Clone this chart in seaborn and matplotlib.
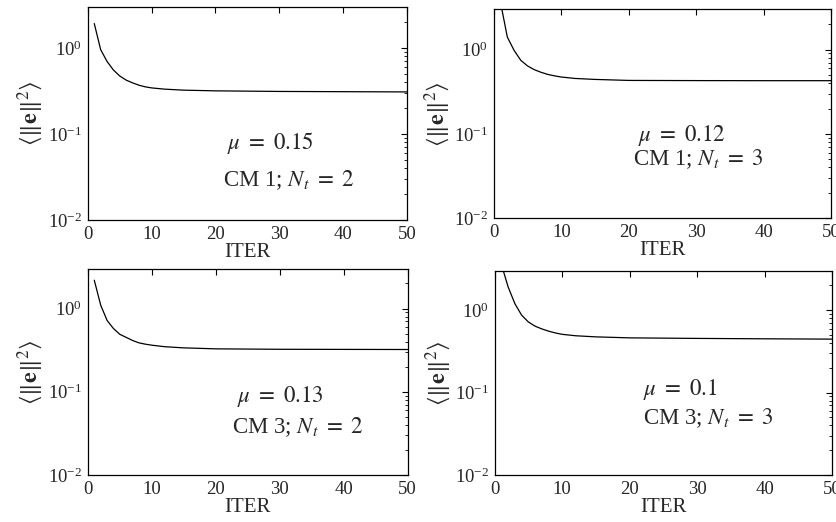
import numpy as np
import pandas as pd
import seaborn as sns
import matplotlib.pyplot as plt

sns.set_style("white")
plt.rcParams['font.family'] = ['Liberation Serif', 'DejaVu Serif']
plt.rcParams['mathtext.fontset'] = 'stix'

# iterations
iters = [1, 2, 3, 4, 5, 6, 7, 8, 9, 10, 12, 15, 20, 30, 40, 50]

# mean squared error for each panel
mse_cm1_nt2 = [1.93, 0.96, 0.70, 0.556, 0.473, 0.424, 0.394, 0.37, 0.354, 0.344, 0.333, 0.324, 0.318, 0.313, 0.311, 0.309]
mse_cm1_nt3 = [3.6, 1.41, 0.98, 0.746, 0.64, 0.578, 0.538, 0.508, 0.488, 0.473, 0.455, 0.443, 0.431, 0.429, 0.428, 0.428]
mse_cm3_nt2 = [2.19, 1.10, 0.72, 0.575, 0.49, 0.45, 0.413, 0.387, 0.373, 0.363, 0.348, 0.337, 0.328, 0.324, 0.323, 0.322]
mse_cm3_nt3 = [3.6, 1.91, 1.20, 0.87, 0.72, 0.64, 0.593, 0.557, 0.53, 0.51, 0.49, 0.475, 0.462, 0.455, 0.45, 0.446]

mu_labels = [r'$\mu\ =\ 0.15$', r'$\mu\ =\ 0.12$', r'$\mu\ =\ 0.13$', r'$\mu\ =\ 0.1$']
cm_labels = [r'CM 1; $N_t\ =\ 2$', r'CM 1; $N_t\ =\ 3$', r'CM 3; $N_t\ =\ 2$', r'CM 3; $N_t\ =\ 3$']

series = [mse_cm1_nt2, mse_cm1_nt3, mse_cm3_nt2, mse_cm3_nt3]

# axes boxes [left, bottom, width, height] in figure fraction
boxes = [
    [0.105, 0.5785, 0.381, 0.408],
    [0.590, 0.582, 0.403, 0.400],
    [0.105, 0.090, 0.382, 0.395],
    [0.591, 0.090, 0.403, 0.391],
]
# text positions (axes fraction, left/centre): mu line, CM line
text_pos = [
    ((0.435, 0.361), (0.423, 0.188)),
    ((0.427, 0.395), (0.412, 0.285)),
    ((0.465, 0.38), (0.450, 0.23)),
    ((0.440, 0.42), (0.440, 0.28)),
]
ylabel_x = [-0.135, -0.125, -0.135, -0.125]

fig = plt.figure(figsize=(8.37, 5.22), dpi=100)

for i in range(4):
    ax = fig.add_axes(boxes[i])
    df = pd.DataFrame({'iter': iters, 'mse': series[i]})
    sns.lineplot(data=df, x='iter', y='mse', ax=ax, color='black', linewidth=0.9)
    ax.set_yscale('log')
    ax.set_xlim(0, 50)
    ax.set_ylim(0.01, 3)
    ax.set_xticks([0, 10, 20, 30, 40, 50])
    ax.set_yticks([0.01, 0.1, 1])
    ax.tick_params(which='both', direction='in', top=True, right=True,
                   labelsize=13.5, color='black', pad=4)
    ax.tick_params(which='major', length=4)
    ax.tick_params(which='minor', length=2)
    for s in ax.spines.values():
        s.set_color('black')
        s.set_linewidth(0.9)
    ax.set_xlabel('ITER', fontsize=15, labelpad=0)
    ax.set_ylabel(r'$\left\langle \Vert\mathsf{\mathbf{e}}\Vert^{2} \right\rangle$',
                  fontsize=17.5)
    ax.yaxis.set_label_coords(ylabel_x[i], 0.5)
    (mx, my), (cx, cy) = text_pos[i]
    ax.text(mx, my, mu_labels[i], transform=ax.transAxes, fontsize=16.5, va='center')
    ax.text(cx, cy, cm_labels[i], transform=ax.transAxes, fontsize=16.5, va='center')

fig.savefig('out.png', dpi=100)
